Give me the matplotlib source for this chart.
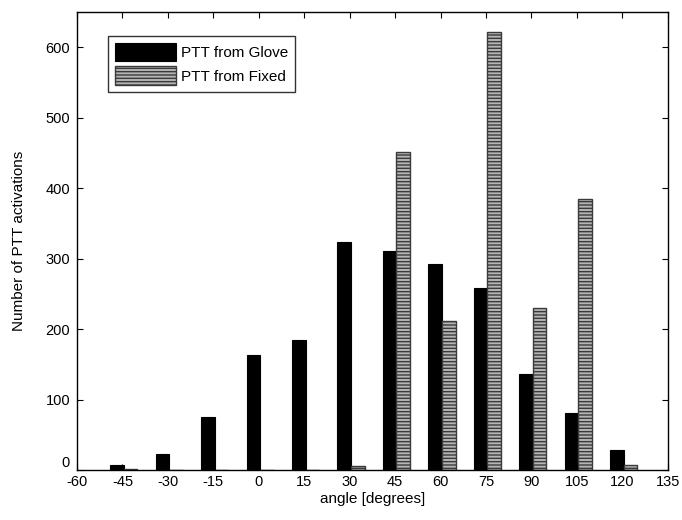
import numpy as np
import matplotlib
matplotlib.use("Agg")
import matplotlib.pyplot as plt
import matplotlib.transforms as mtransforms

plt.rcParams['font.family'] = ['Liberation Sans', 'DejaVu Sans']
plt.rcParams['axes.unicode_minus'] = False

# angle bins (degrees)
angles = [-45, -30, -15, 0, 15, 30, 45, 60, 75, 90, 105, 120]
# number of PTT activations
glove = [7, 23, 75, 163, 184, 324, 311, 292, 258, 136, 81, 28]
fixed = [2, 0, 0, 0, 0, 6, 452, 211, 622, 230, 384, 7]

x = np.array(angles, dtype=float)
w = 4.5

fig = plt.figure(figsize=(6.82, 5.2), dpi=100)
ax = fig.add_axes([0.113, 0.096, 0.866, 0.881])

ax.bar(x - 1.8, glove, width=w, color='black', edgecolor='black',
       linewidth=0.8, label='PTT from Glove')
ax.bar(x + 2.7, fixed, width=w, color='#b4b4b4', edgecolor='#3a3a3a',
       hatch='-----', linewidth=1.0, label='PTT from Fixed')

ax.set_xlim(-60, 135)
ax.set_ylim(0, 650)
ax.set_xticks(np.arange(-60, 136, 15))
ax.set_yticks(np.arange(0, 601, 100))
ax.tick_params(direction='in', length=4, labelsize=10.5, top=True, right=True,
               labeltop=False, labelright=False)
ax.tick_params(axis='y', pad=5)
for s in ax.spines.values():
    s.set_linewidth(1.0)

# lift the "0" on the y axis a bit so it sits above "-60", like the original
fig.canvas.draw()
lbl0 = ax.get_yticklabels()[0]
lbl0.set_transform(lbl0.get_transform() +
                   mtransforms.ScaledTranslation(0, 6 / 72, fig.dpi_scale_trans))

ax.set_xlabel('angle [degrees]', fontsize=11, labelpad=2)
ax.set_ylabel('Number of PTT activations', fontsize=11, labelpad=14)

leg = ax.legend(loc='upper left', bbox_to_anchor=(0.04, 0.965), fontsize=11,
                frameon=True, fancybox=False, handlelength=4.0, handleheight=1.5,
                borderpad=0.45, labelspacing=0.35, handletextpad=0.3)
leg.get_frame().set_edgecolor('black')
leg.get_frame().set_linewidth(1.0)

fig.savefig('out.png', dpi=100)
